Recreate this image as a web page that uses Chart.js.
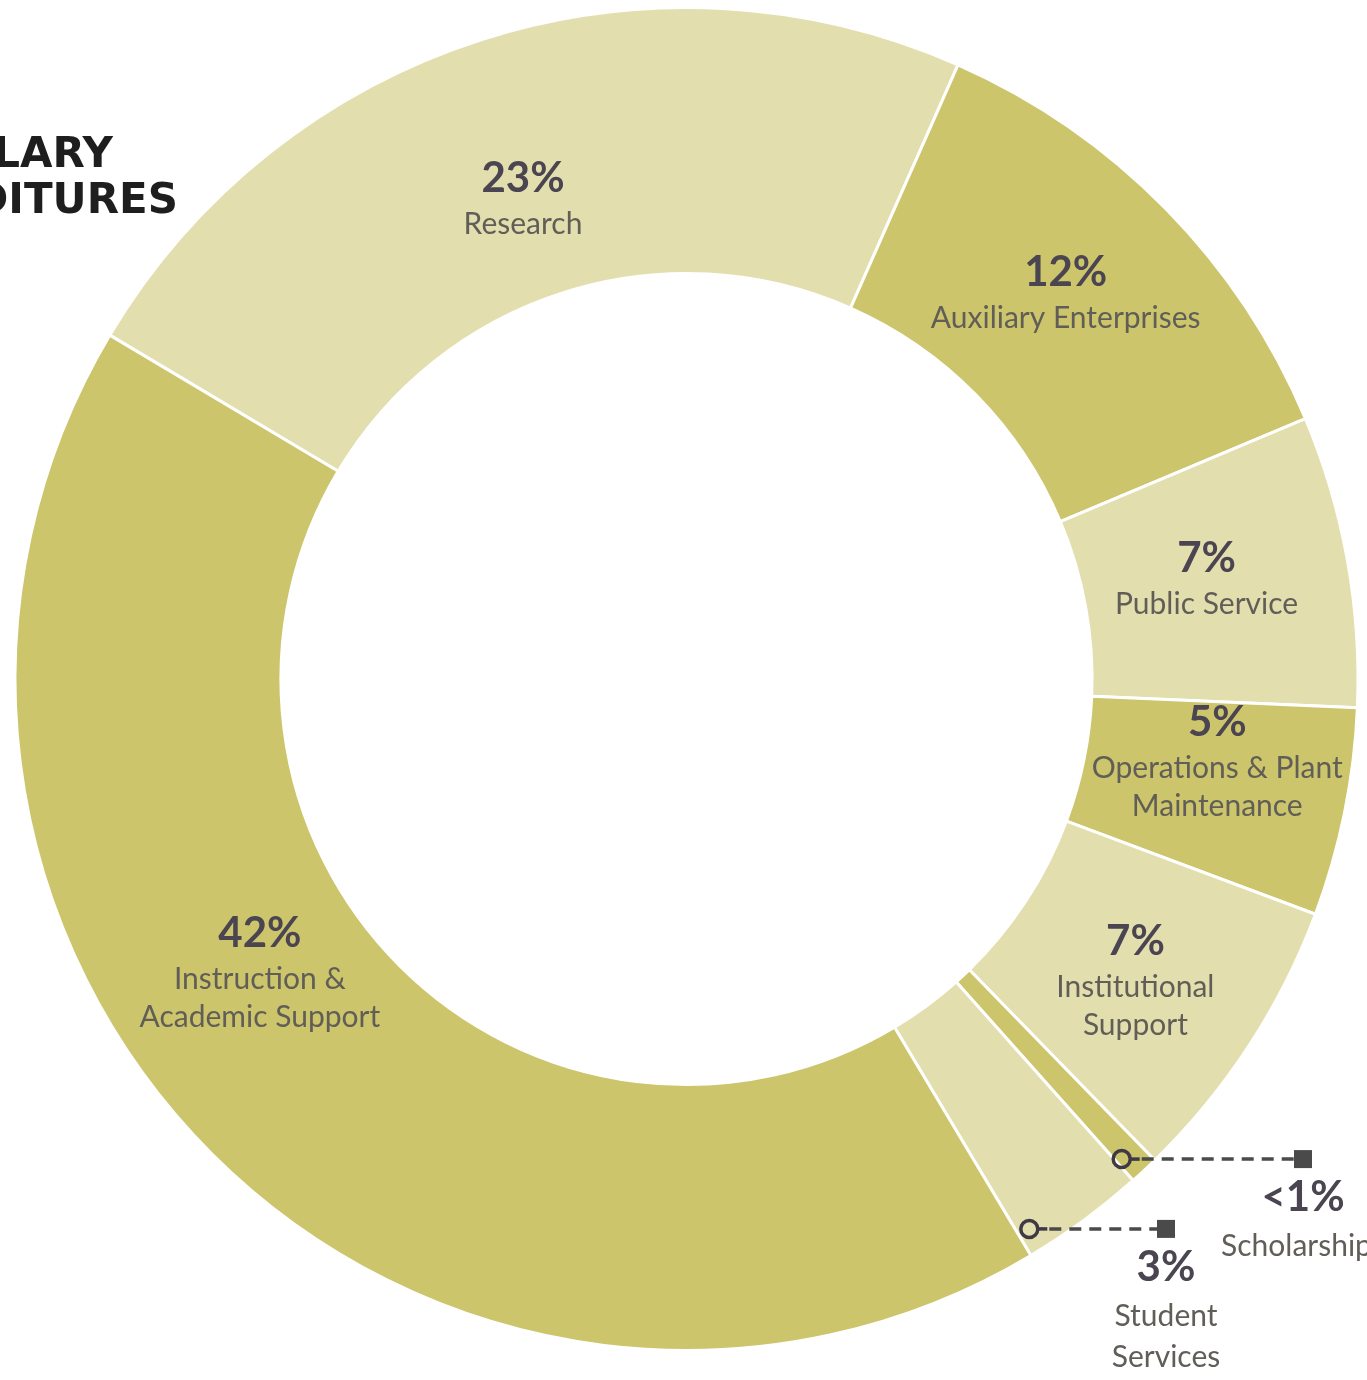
<!DOCTYPE html>
<html>
<head>
<meta charset="utf-8">
<title>Non-Salary Expenditures</title>
<script src="https://cdn.jsdelivr.net/npm/chart.js@4.4.1/dist/chart.umd.min.js"></script>
<style>
    html, body { margin: 0; padding: 0; background: #ffffff; overflow: hidden; }
    #wrap { position: relative; width: 1367px; height: 1380px; }
</style>
</head>
<body>
<div id="wrap"><canvas id="expenditureChart" width="1367" height="1380"></canvas></div>
<script>
// Spending by category, clockwise from Research
const categories = [
    ['Research'],
    ['Auxiliary Enterprises'],
    ['Public Service'],
    ['Operations & Plant', 'Maintenance'],
    ['Institutional', 'Support'],
    ['Scholarships'],
    ['Student', 'Services'],
    ['Instruction &', 'Academic Support']
];
const shares = [23, 12, 7, 5, 7, 0.7, 3, 42];
const shareLabels = ['23%', '12%', '7%', '5%', '7%', '<1%', '3%', '42%'];
const titleLines = ['NON-SALARY', 'EXPENDITURES'];

const LIGHT = '#e3deae';
const DARK = '#ccc56c';
const sliceColors = [LIGHT, DARK, LIGHT, DARK, LIGHT, DARK, LIGHT, DARK];

// label nudges from the slice centre; null = drawn with a leader line instead
const labelNudge = [
    [0, 26], [-5, -16], [-10, -12], [3, -50], [-2, -18], null, null, [-46, -113]
];
// leader lines: end x of the dashed line, position along the slice
const leaders = { 5: { endX: 1303, at: 0.8 }, 6: { endX: 1166, at: 0.9 } };

const PCT_COLOR = '#4a4550';
const NAME_COLOR = '#605e57';
const PCT_FONT = 'bold 42px Lato';
const NAME_FONT = '30px Lato';

function drawBlock(ctx, x, y, pct, lines, firstGap, lineGap) {
    ctx.textAlign = 'center';
    ctx.textBaseline = 'alphabetic';
    ctx.fillStyle = PCT_COLOR;
    ctx.font = PCT_FONT;
    ctx.fillText(pct, x, y);
    ctx.fillStyle = NAME_COLOR;
    ctx.font = NAME_FONT;
    lines.forEach((line, j) => {
        ctx.fillText(line, x, y + firstGap + j * lineGap);
    });
}

const sliceLabels = {
    id: 'sliceLabels',
    afterDatasetsDraw(chart) {
        const ctx = chart.ctx;
        const arcs = chart.getDatasetMeta(0).data;
        ctx.save();
        arcs.forEach((arc, i) => {
            const p = arc.getProps(['x', 'y', 'startAngle', 'endAngle', 'innerRadius', 'outerRadius'], true);
            if (labelNudge[i]) {
                const mid = (p.startAngle + p.endAngle) / 2;
                const r = (p.innerRadius + p.outerRadius) / 2;
                const x = p.x + Math.cos(mid) * r + labelNudge[i][0];
                const y = p.y + Math.sin(mid) * r + labelNudge[i][1];
                drawBlock(ctx, x, y, shareLabels[i], categories[i], 42, 38);
                return;
            }
            const lead = leaders[i];
            const a = p.startAngle + (p.endAngle - p.startAngle) * lead.at;
            const r = p.outerRadius * 0.965;
            const cx = p.x + Math.cos(a) * r;
            const cy = p.y + Math.sin(a) * r;

            // dashed leader
            ctx.strokeStyle = '#4a4a4a';
            ctx.lineWidth = 3.5;
            ctx.setLineDash([12, 8]);
            ctx.beginPath();
            ctx.moveTo(cx + 20, cy);
            ctx.lineTo(lead.endX - 8, cy);
            ctx.stroke();
            ctx.setLineDash([]);

            // ring with a short stub
            ctx.strokeStyle = '#3f3946';
            ctx.beginPath();
            ctx.moveTo(cx + 9, cy);
            ctx.lineTo(cx + 18, cy);
            ctx.stroke();
            ctx.beginPath();
            ctx.arc(cx, cy, 8.5, 0, Math.PI * 2);
            ctx.stroke();

            ctx.fillStyle = '#4a4a4a';
            ctx.fillRect(lead.endX - 9, cy - 9, 18, 18);

            drawBlock(ctx, lead.endX, cy + 52, shareLabels[i], categories[i], 45, 41);
        });

        // heading, running off the left edge
        ctx.fillStyle = '#1e1e1e';
        ctx.font = 'bold 42px "DejaVu Sans"';
        ctx.textAlign = 'right';
        ctx.fillText(titleLines[0], 113, 167);
        ctx.fillText(titleLines[1], 178, 213);
        ctx.restore();
    }
};

new Chart(document.getElementById('expenditureChart'), {
    type: 'doughnut',
    data: {
        labels: categories.map(c => c.join(' ')),
        datasets: [{
            data: shares,
            backgroundColor: sliceColors,
            borderColor: '#ffffff',
            borderWidth: 3,
            hoverOffset: 0
        }]
    },
    options: {
        responsive: false,
        animation: false,
        rotation: -59.2,
        cutout: '60.4%',
        layout: {
            padding: { left: 13.5, right: 7.5, top: 6, bottom: 28 }
        },
        plugins: {
            legend: { display: false },
            tooltip: { enabled: false }
        }
    },
    plugins: [sliceLabels]
});
</script>
</body>
</html>
